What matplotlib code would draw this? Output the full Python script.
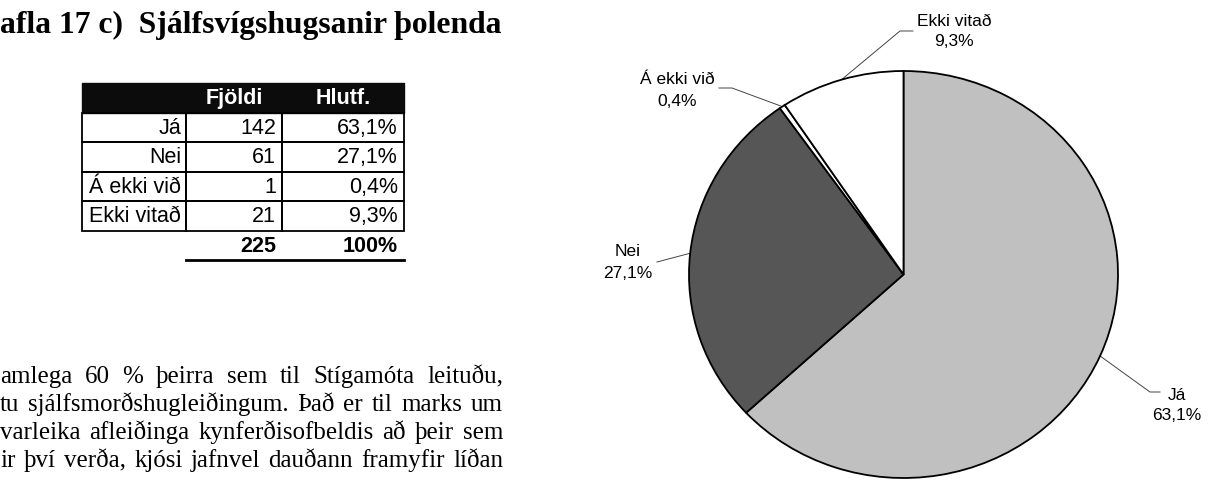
import numpy as np
import matplotlib.pyplot as plt
from matplotlib.patches import Rectangle

# Data
categories = ['Já', 'Nei', 'Á ekki við', 'Ekki vitað']
counts = [142, 61, 1, 21]
shares = ['63,1%', '27,1%', '0,4%', '9,3%']
header = ['Fjöldi', 'Hlutf.']
total_share = '100%'
title = 'afla 17 c)  Sjálfsvígshugsanir þolenda'
paragraph = [
    'amlega 60 % þeirra sem til Stígamóta leituðu,',
    'tu sjálfsmorðshugleiðingum. Það er til marks um',
    'varleika afleiðinga kynferðisofbeldis að þeir sem',
    'ir því verða, kjósi jafnvel dauðann framyfir líðan',
]

W, H = 1208, 484
fig = plt.figure(figsize=(W / 100, H / 100), dpi=100)

# overlay axes in pixel units (y down)
ov = fig.add_axes([0, 0, 1, 1])
ov.set_xlim(0, W)
ov.set_ylim(H, 0)
ov.axis('off')

serif = 'Liberation Serif'
sans = 'Liberation Sans'

# --- Title ---
ov.text(0, 33, title, fontsize=22.8, fontweight='bold', family=serif,
        ha='left', va='baseline')

# --- Table ---
x_left, x_c1, x_c2, x_right = 82, 186, 282, 404
y0, rh = 83, 29.5
fz = 15.5
ov.add_patch(Rectangle((x_left, y0), x_right - x_left, rh, color='#0c0c0c'))
ov.text((x_c1 + x_c2) / 2, y0 + rh / 2 + 1, header[0], color='white',
        fontsize=fz, fontweight='bold', family=sans, ha='center', va='center')
ov.text((x_c2 + x_right) / 2, y0 + rh / 2 + 1, header[1], color='white',
        fontsize=fz, fontweight='bold', family=sans, ha='center', va='center')

for i, (cat, n, s) in enumerate(zip(categories, counts, shares)):
    top = y0 + rh * (i + 1)
    for a, b in [(x_left, x_c1), (x_c1, x_c2), (x_c2, x_right)]:
        ov.add_patch(Rectangle((a, top), b - a, rh, fill=False,
                               edgecolor='black', linewidth=1.3))
    yc = top + rh / 2 + 1
    ov.text(x_c1 - 5, yc, cat, fontsize=fz, family=sans, ha='right', va='center')
    ov.text(x_c2 - 6, yc, str(n), fontsize=fz, family=sans, ha='right', va='center')
    ov.text(x_right - 6, yc, s, fontsize=fz, family=sans, ha='right', va='center')

y_tot = y0 + rh * 5
ov.text(x_c2 - 6, y_tot + rh / 2 + 1, str(sum(counts)), fontsize=fz,
        fontweight='bold', family=sans, ha='right', va='center')
ov.text(x_right - 6, y_tot + rh / 2 + 1, total_share, fontsize=fz,
        fontweight='bold', family=sans, ha='right', va='center')
ov.plot([x_c1, x_right], [y_tot + rh, y_tot + rh], color='black', lw=2)

# --- Justified paragraph ---
fig.canvas.draw()
renderer = fig.canvas.get_renderer()
line_w = 503
for k, line in enumerate(paragraph):
    y = 383 + k * 28
    words = line.split(' ')
    objs = [ov.text(0, y, w, fontsize=18, family=serif, ha='left', va='baseline')
            for w in words]
    widths = [o.get_window_extent(renderer).width for o in objs]
    gap = (line_w - sum(widths)) / (len(words) - 1)
    x = 0
    for o, w in zip(objs, widths):
        o.set_x(x)
        x += w + gap

# --- Pie (slightly elliptical, as in the scan) ---
cx, cy, rx, ry = 903.5, 274.5, 214.5, 203.5
pax = fig.add_axes([(cx - rx) / W, (H - cy - ry) / H, 2 * rx / W, 2 * ry / H])
pax.pie(counts, startangle=90, counterclock=False,
        colors=['#c0c0c0', '#565656', 'white', 'white'],
        wedgeprops=dict(edgecolor='black', linewidth=1.3))
pax.set_aspect('auto')
pax.set_xlim(-1, 1)
pax.set_ylim(-1, 1)
pax.axis('off')

# labels with leader lines
label_pos = [(1177, 395), (628, 252), (677, 80), (954, 21)]
elbows = [[(1150, 392), (1160, 392)],
          [(657, 262)],
          [(732, 88), (719, 88)],
          [(900, 31), (913, 31)]]
cum = np.cumsum([0] + counts)
tot = sum(counts)
for i, cat in enumerate(categories):
    mid = 90 - 360 * (cum[i] + counts[i] / 2) / tot
    ex = cx + rx * np.cos(np.radians(mid))
    ey = cy - ry * np.sin(np.radians(mid))
    xs = [ex] + [p[0] for p in elbows[i]]
    ys = [ey] + [p[1] for p in elbows[i]]
    ov.plot(xs, ys, color='#444444', lw=0.7)
    lx, ly = label_pos[i]
    ov.text(lx, ly, cat, fontsize=12.5, family=sans, ha='center', va='center')
    ov.text(lx, ly + 21, shares[i], fontsize=12.5, family=sans,
            ha='center', va='center')

fig.savefig('out.png', dpi=100)
